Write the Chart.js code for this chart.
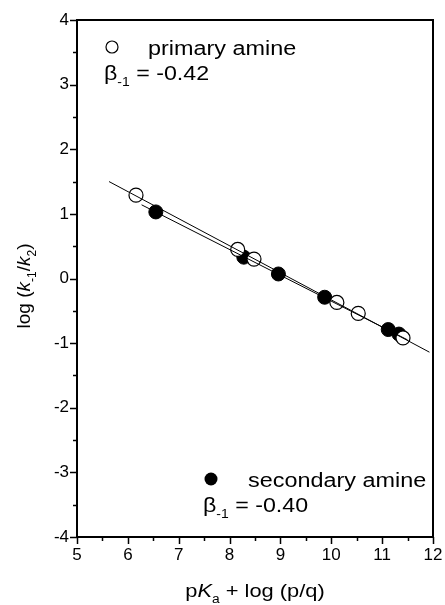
<!DOCTYPE html>
<html>
<head>
<meta charset="utf-8">
<script src="https://cdn.jsdelivr.net/npm/chart.js@4.4.1/dist/chart.umd.min.js"></script>
<style>
  html, body { margin: 0; padding: 0; background: #fff; }
  #wrap { width: 445px; height: 605px; }
</style>
</head>
<body>
<div id="wrap"><canvas id="BronstedChart" width="445" height="605"></canvas></div>
<script>
"use strict";

// primary amine (open circles)
const primaryX = [6.16, 8.16, 8.48, 10.11, 10.53, 11.41];
const primaryY = [1.29, 0.45, 0.30, -0.37, -0.54, -0.92];
// secondary amine (filled circles)
const secondaryX = [6.55, 8.28, 8.96, 9.87, 11.12, 11.33];
const secondaryY = [1.03, 0.33, 0.07, -0.29, -0.79, -0.86];
// fitted lines
const primaryFitX = [5.63, 11.93];
const primaryFitY = [1.50, -1.14];
const secondaryFitX = [6.27, 11.5];
const secondaryFitY = [1.14, -0.95];

const FONT = "'Liberation Sans', Arial, sans-serif";

function toPoints(xs, ys) {
    return xs.map(function (x, i) { return { x: x, y: ys[i] }; });
}

// draws a run of text pieces: [text, italic, sub], stretched by hs
function drawRich(ctx, parts, x, y, size, hs) {
    hs = hs || 1;
    let cx = 0;
    ctx.save();
    ctx.translate(x, y);
    ctx.scale(hs, 1);
    parts.forEach(function (p) {
        let sz = p[2] ? Math.round(size * 0.62) : size;
        ctx.font = (p[1] ? "italic " : "") + sz + "px " + FONT;
        ctx.fillText(p[0], cx, p[2] ? size * 0.3 : 0);
        cx += ctx.measureText(p[0]).width;
    });
    ctx.restore();
    return cx * hs;
}

function richWidth(ctx, parts, size, hs) {
    let w = 0;
    parts.forEach(function (p) {
        let sz = p[2] ? Math.round(size * 0.62) : size;
        ctx.font = (p[1] ? "italic " : "") + sz + "px " + FONT;
        w += ctx.measureText(p[0]).width;
    });
    return w * (hs || 1);
}

const decorPlugin = {
    id: "decor",
    afterDraw: function (chart) {
        const ctx = chart.ctx;
        const a = chart.chartArea;
        const xs = chart.scales.x;
        const ys = chart.scales.y;
        ctx.save();
        ctx.strokeStyle = "#000";
        ctx.fillStyle = "#000";

        // frame
        ctx.lineWidth = 2;
        ctx.strokeRect(a.left, a.top, a.right - a.left, a.bottom - a.top);

        // tick marks (major + minor)
        ctx.lineWidth = 1.5;
        ctx.beginPath();
        for (let v = -4; v <= 4.001; v += 0.5) {
            let py = Math.round(ys.getPixelForValue(v)) + 0.5;
            let len = Math.abs(v - Math.round(v)) < 0.01 ? 7 : 4;
            ctx.moveTo(a.left - len, py);
            ctx.lineTo(a.left, py);
        }
        for (let v = 5; v <= 12.001; v += 0.5) {
            let px = Math.round(xs.getPixelForValue(v)) + 0.5;
            let len = Math.abs(v - Math.round(v)) < 0.01 ? 7 : 4;
            ctx.moveTo(px, a.bottom);
            ctx.lineTo(px, a.bottom + len);
        }
        ctx.stroke();

        // legend entries inside the plot
        ctx.textBaseline = "alphabetic";
        ctx.textAlign = "left";
        ctx.lineWidth = 1.2;
        ctx.beginPath();
        ctx.arc(112, 47, 6, 0, Math.PI * 2);
        ctx.stroke();
        drawRich(ctx, [["primary amine", false, false]], 148, 55, 20, 1.17);
        drawRich(ctx, [["\u03b2", false, false], ["-1", false, true], [" = -0.42", false, false]], 104, 80, 20, 1.16);

        ctx.beginPath();
        ctx.arc(211, 479, 6.5, 0, Math.PI * 2);
        ctx.fill();
        drawRich(ctx, [["secondary amine", false, false]], 248, 487, 20, 1.17);
        drawRich(ctx, [["\u03b2", false, false], ["-1", false, true], [" = -0.40", false, false]], 203, 512, 20, 1.16);

        // x axis title
        const xt = [["p", false, false], ["K", true, false], ["a", false, true], [" + log (p/q)", false, false]];
        let w = richWidth(ctx, xt, 19, 1.15);
        drawRich(ctx, xt, (a.left + a.right) / 2 - w / 2, 597, 19, 1.15);

        // y axis title
        const yt = [["log (", false, false], ["k", true, false], ["-1", false, true], ["/", false, false],
                    ["k", true, false], ["2", false, true], [")", false, false]];
        w = richWidth(ctx, yt, 19);
        ctx.translate(30, 286);
        ctx.rotate(-Math.PI / 2);
        drawRich(ctx, yt, -w / 2, 0, 19);
        ctx.restore();
    }
};

const chart = new Chart(document.getElementById("BronstedChart"), {
    type: "scatter",
    data: {
        datasets: [{
            label: "primary fit",
            data: toPoints(primaryFitX, primaryFitY),
            showLine: true,
            borderColor: "#000",
            borderWidth: 1,
            pointRadius: 0
        }, {
            label: "secondary fit",
            data: toPoints(secondaryFitX, secondaryFitY),
            showLine: true,
            borderColor: "#000",
            borderWidth: 1,
            pointRadius: 0
        }, {
            label: "primary amine",
            data: toPoints(primaryX, primaryY),
            pointRadius: 7,
            pointBackgroundColor: "#fff",
            pointBorderColor: "#000",
            pointBorderWidth: 1.2
        }, {
            label: "secondary amine",
            data: toPoints(secondaryX, secondaryY),
            pointRadius: 7,
            pointBackgroundColor: "#000",
            pointBorderColor: "#000",
            pointBorderWidth: 1
        }]
    },
    options: {
        responsive: false,
        animation: false,
        layout: { padding: { top: 20, right: 12, left: 0, bottom: 0 } },
        plugins: {
            legend: { display: false },
            tooltip: { enabled: false }
        },
        scales: {
            x: {
                type: "linear",
                min: 5,
                max: 12,
                grid: { display: false, drawTicks: false },
                border: { display: true, color: "#000", width: 2 },
                ticks: { stepSize: 1, padding: 8, color: "#000", font: { family: FONT, size: 17 } },
                afterFit: function (s) {
                    s.height = 68;
                    s.paddingLeft = 0;
                    s.paddingRight = 0;
                }
            },
            y: {
                type: "linear",
                min: -4,
                max: 4,
                grid: { display: false, drawTicks: false },
                border: { display: true, color: "#000", width: 2 },
                ticks: { stepSize: 1, padding: 8, color: "#000", font: { family: FONT, size: 17 } },
                afterFit: function (s) {
                    s.width = 77;
                    s.paddingTop = 0;
                    s.paddingBottom = 0;
                }
            }
        }
    },
    plugins: [decorPlugin]
});
</script>
</body>
</html>
